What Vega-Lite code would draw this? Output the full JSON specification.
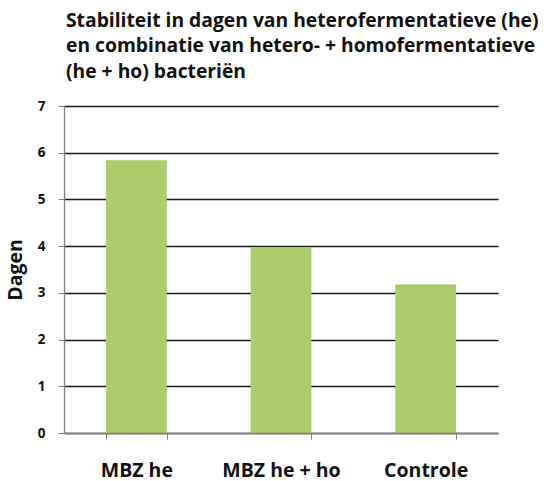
{
  "$schema": "https://vega.github.io/schema/vega-lite/v6.json",
  "autosize": "none",
  "width": 434,
  "height": 327,
  "padding": {"left": 64, "top": 106, "right": 49, "bottom": 48},
  "background": "white",
  "title": {
    "text": ["Stabiliteit in dagen van heterofermentatieve (he)", "en combinatie van hetero- + homofermentatieve", "(he + ho) bacteriën"],
    "anchor": "start",
    "frame": "group",
    "dx": 2,
    "offset": 17,
    "font": "Open Sans",
    "fontSize": 19.3,
    "fontWeight": "bold",
    "lineHeight": 25.5,
    "color": "#111111"
  },
  "data": {
    "values": [
      {"groep": "MBZ he", "dagen": 5.84},
      {"groep": "MBZ he + ho", "dagen": 3.98},
      {"groep": "Controle", "dagen": 3.18}
    ]
  },
  "mark": {"type": "bar", "color": "#abcd6b"},
  "encoding": {
    "x": {
      "field": "groep",
      "type": "nominal",
      "sort": null,
      "scale": {"paddingInner": 0.58, "paddingOuter": 0.29},
      "axis": {
        "title": null,
        "labelAngle": 0,
        "labelFont": "Open Sans",
        "labelFontSize": 19.5,
        "labelFontWeight": "bold",
        "labelColor": "#111111",
        "labelPadding": 22,
        "tickBand": "extent",
        "tickSize": 6,
        "tickColor": "#808080",
        "domainColor": "#808080",
        "domainWidth": 1.3,
        "zindex": 1
      }
    },
    "y": {
      "field": "dagen",
      "type": "quantitative",
      "scale": {"domain": [0, 7], "nice": false},
      "axis": {
        "title": "Dagen",
        "titleFont": "Open Sans",
        "titleFontSize": 19.5,
        "titleFontWeight": "bold",
        "titleColor": "#111111",
        "titlePadding": 12,
        "values": [0, 1, 2, 3, 4, 5, 6, 7],
        "labelFont": "Open Sans",
        "labelFontSize": 13.5,
        "labelFontWeight": "bold",
        "labelColor": "#111111",
        "labelPadding": 13,
        "tickSize": 6,
        "tickColor": "#808080",
        "domainColor": "#808080",
        "domainWidth": 1.3,
        "grid": true,
        "gridColor": "#1a1a1a",
        "gridWidth": 1.3,
        "zindex": 0
      }
    }
  },
  "config": {"view": {"stroke": null}}
}
